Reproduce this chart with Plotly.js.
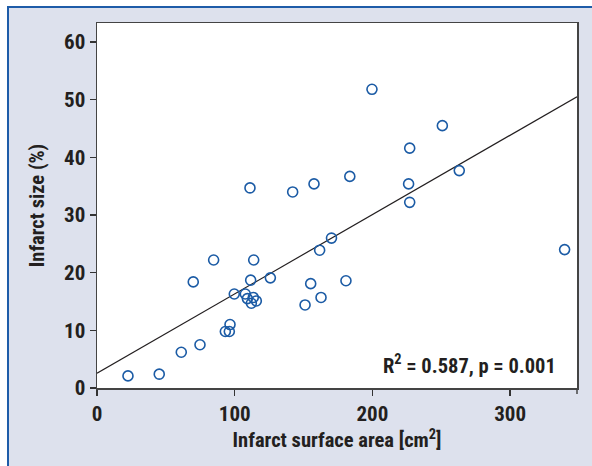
<!DOCTYPE html>
<html>
<head>
<meta charset="utf-8">
<script src="https://cdn.plot.ly/plotly-3.0.1.min.js"></script>
<style>
  html, body { margin: 0; padding: 0; background: #ffffff; }
  #chart { width: 592px; height: 466px; }
</style>
</head>
<body>
<div id="chart"></div>
<script>
// Infarct surface area [cm²]
const surfaceArea = [22.5, 45.2, 61.2, 69.9, 74.8, 84.7, 93.2, 96.1, 96.6, 99.7,
  107.7, 109.2, 111.1, 111.6, 112.1, 113.5, 113.8, 115.7, 125.9, 142.1,
  151.1, 155.2, 157.6, 161.7, 162.7, 170.3, 180.8, 183.6, 199.7, 226.3,
  227.1, 227.1, 250.8, 263.1, 339.6];
// Infarct size (%)
const infarctSize = [2.1, 2.4, 6.2, 18.4, 7.5, 22.2, 9.8, 9.8, 11.0, 16.3,
  16.3, 15.5, 34.7, 18.7, 14.7, 15.7, 22.2, 15.1, 19.1, 34.0,
  14.4, 18.1, 35.4, 23.9, 15.7, 26.0, 18.6, 36.7, 51.8, 35.4,
  41.6, 32.2, 45.5, 37.7, 24.0];

// Regression line (as printed)
const fitIntercept = 2.55;
const fitSlope = 0.1376;
const xRange = [0, 348.6];
const yRange = [0, 63.3];
const xTicks = [0, 100, 200, 300];
const yTicks = [0, 10, 20, 30, 40, 50, 60];
const statsLabel = "R<sup>2</sup> = 0.587, p = 0.001";

const fitX = [xRange[0], xRange[1]];
const fitY = fitX.map(x => fitIntercept + fitSlope * x);

const FONT = "Roboto Condensed, Roboto, sans-serif";
const TEXT = "#231f20";
const BLUE = "#1b5ba5";

const traces = [
  {
    x: fitX, y: fitY, type: "scatter", mode: "lines",
    line: { color: "#231f20", width: 1.2 },
    hoverinfo: "skip", showlegend: false
  },
  {
    x: surfaceArea, y: infarctSize, type: "scatter", mode: "markers",
    marker: { symbol: "circle-open", size: 10, color: BLUE, line: { color: BLUE, width: 1.6 } },
    showlegend: false
  }
];

const W = 480, H = 365;
const layout = {
  width: 592, height: 466,
  margin: { l: 97, r: 15, t: 23, b: 78 },
  paper_bgcolor: "#dde1ed",
  plot_bgcolor: "#ffffff",
  font: { family: FONT, color: TEXT, size: 20, weight: 700 },
  showlegend: false,
  xaxis: {
    range: xRange, tickvals: xTicks, ticktext: xTicks.map(String),
    ticks: "outside", ticklen: 6, tickwidth: 1.2, tickcolor: "#333",
    showline: true, linecolor: "#444", linewidth: 1.5, mirror: true,
    showgrid: false, zeroline: false,
    tickfont: { family: FONT, size: 21, color: TEXT, weight: 700 },
    title: { text: "Infarct surface area [cm<sup>2</sup>]", standoff: 8,
      font: { family: FONT, size: 20.5, color: TEXT, weight: 700 } }
  },
  yaxis: {
    range: yRange, tickvals: yTicks, ticktext: yTicks.map(String),
    ticks: "outside", ticklen: 6, tickwidth: 1.2, tickcolor: "#333",
    showline: true, linecolor: "#444", linewidth: 1.5, mirror: true,
    showgrid: false, zeroline: false,
    tickfont: { family: FONT, size: 21, color: TEXT, weight: 700 },
    title: { text: "Infarct size (%)", standoff: 14,
      font: { family: FONT, size: 20.5, color: TEXT, weight: 700 } }
  },
  annotations: [
    {
      x: 334.8, y: 4.0, xref: "x", yref: "y", text: statsLabel,
      showarrow: false, xanchor: "right", yanchor: "middle",
      font: { family: FONT, size: 20.5, color: TEXT, weight: 700 }
    }
  ],
  shapes: [
    { type: "rect", xref: "paper", yref: "paper", layer: "below",
      x0: -97 / W, x1: 495 / W, y0: (388 - 6) / H, y1: 388 / H,
      fillcolor: "#ffffff", line: { width: 0 } },
    { type: "rect", xref: "paper", yref: "paper", layer: "below",
      x0: -97 / W, x1: (7 - 97) / W, y0: -78 / H, y1: 388 / H,
      fillcolor: "#ffffff", line: { width: 0 } },
    { type: "line", xref: "paper", yref: "paper",
      x0: (7 - 97) / W, x1: 495 / W, y0: (388 - 7) / H, y1: (388 - 7) / H,
      line: { color: "#1e5ca8", width: 2 } },
    { type: "line", xref: "paper", yref: "paper",
      x0: (8 - 97) / W, x1: (8 - 97) / W, y0: -78 / H, y1: (388 - 6) / H,
      line: { color: "#1e5ca8", width: 2 } },
    { type: "line", xref: "paper", yref: "paper",
      x0: 1, x1: 1, y0: 0, y1: -6 / H,
      line: { color: "#444", width: 1.5 } }
  ]
};

Plotly.newPlot("chart", traces, layout, { staticPlot: true, displayModeBar: false });
</script>
</body>
</html>
